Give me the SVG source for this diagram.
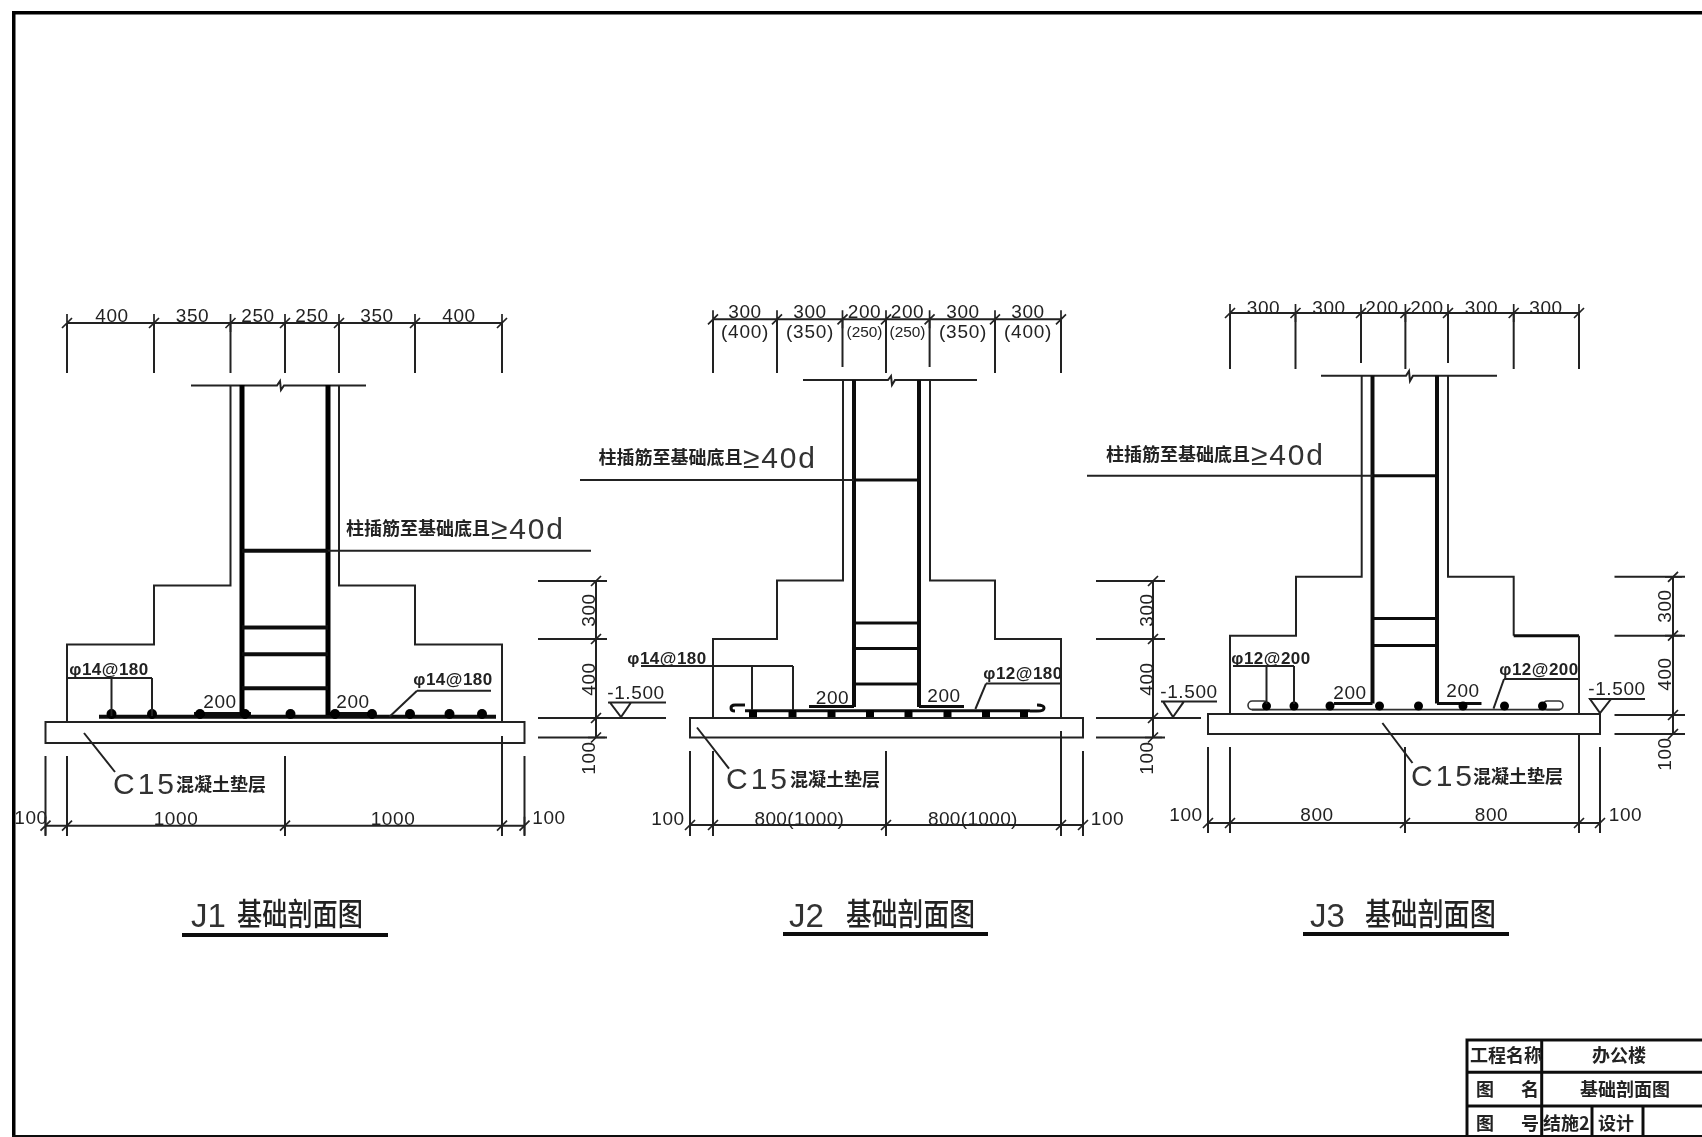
<svg xmlns="http://www.w3.org/2000/svg" width="1702" height="1137" viewBox="0 0 1702 1137">
<style>
text{font-family:"Liberation Sans","Noto Sans CJK SC",sans-serif;fill:#222}
.d{font-size:19px;letter-spacing:.6px;text-anchor:middle}
.s{font-size:17px;letter-spacing:.5px;text-anchor:middle;font-weight:700}
.n{font-size:15px;text-anchor:middle}
.cn{font-family:"Noto Sans CJK SC",sans-serif;font-weight:700;font-size:18px;fill:#222}
.big{font-size:30px;letter-spacing:3px;fill:#333}
.t{font-family:"Noto Sans CJK SC",sans-serif;font-weight:500;font-size:31px;fill:#222}
.j{font-size:33px;fill:#333}
.l{fill:none;stroke:#222;stroke-width:2}
.m{fill:none;stroke:#111;stroke-width:3}
.u{fill:none;stroke:#111;stroke-width:4}
.h{fill:none;stroke:#000;stroke-width:5}
.k{fill:none;stroke:#333;stroke-width:1.6}
</style>
<defs>
<filter id="b" x="0" y="0" width="100%" height="100%"><feGaussianBlur stdDeviation="0.6"/></filter>
<path id="t" d="M-5,5L5,-5M0,-9V9" fill="none" stroke="#222" stroke-width="1.7"/>
<path id="v" d="M-5,5L5,-5M-8,0H9" fill="none" stroke="#222" stroke-width="1.7"/>
</defs>
<rect width="1702" height="1137" fill="#fff"/>
<g filter="url(#b)">
<g id="frame"><path d="M1702,11.500H12.500V1137" fill="none" stroke="#000" stroke-width="6"/><path d="M12,1136.500H1702" fill="none" stroke="#111" stroke-width="3"/></g>

<g id="J1">
<path class="l" d="M67,323H502M67,323V373M154,323V373M230.500,323V373M285,323V373M339,323V373M415,323V373M502,323V373"/>
<use href="#t" x="67" y="323"/><use href="#t" x="154" y="323"/><use href="#t" x="230.500" y="323"/><use href="#t" x="285" y="323"/><use href="#t" x="339" y="323"/><use href="#t" x="415" y="323"/><use href="#t" x="502" y="323"/>
<text class="d" x="112" y="322">400</text><text class="d" x="192.500" y="322">350</text><text class="d" x="258" y="322">250</text><text class="d" x="312" y="322">250</text><text class="d" x="377" y="322">350</text><text class="d" x="459" y="322">400</text>
<path class="l" d="M191,385.500H277L280,381L281,390L284,385.500H366"/>
<path class="l" d="M230.500,385.500V585.500H154V644.500H67V722M339,385.500V585.500H415V644.500H502V722"/>
<path class="h" d="M242,385V717M328,385V717"/>
<path class="u" d="M242,550.700H328M242,627.500H328M242,654.300H328M242,688.200H328"/>
<path class="u" d="M99,716.800H496M194,714H251M330,714H376"/>
<g fill="#000"><circle cx="111.500" cy="714" r="5"/><circle cx="152" cy="714" r="5"/><circle cx="200" cy="714" r="5"/><circle cx="245" cy="714" r="5"/><circle cx="290.500" cy="714" r="5"/><circle cx="335" cy="714" r="5"/><circle cx="372" cy="714" r="5"/><circle cx="410" cy="714" r="5"/><circle cx="449.500" cy="714" r="5"/><circle cx="482" cy="714" r="5"/></g>
<rect class="l" x="45.500" y="722" width="479" height="21"/>
<path class="l" d="M328,550.700H591M67,678H152M111.500,678V716M152,678V716M417,690.700H491M417,690.700L389.500,716.800M84,733L115,772"/>
<text class="cn" x="346" y="535">柱插筋至基础底且</text><text class="big" x="491" y="539" textLength="75">≥40d</text>
<text class="s" x="109" y="675">φ14@180</text><text class="s" x="453" y="685">φ14@180</text>
<text class="d" x="220" y="708">200</text><text class="d" x="353" y="708">200</text>
<text class="big" x="113" y="794">C15</text><text class="cn" x="176" y="791">混凝土垫层</text>
<path class="l" d="M45.500,756V836M67,756V836M285,756V836M502,736V836M524.500,756V836M45.500,825.700H524.500"/>
<use href="#t" x="45.500" y="825.700"/><use href="#t" x="67" y="825.700"/><use href="#t" x="285" y="825.700"/><use href="#t" x="502" y="825.700"/><use href="#t" x="524.500" y="825.700"/>
<text class="d" x="31" y="824">100</text><text class="d" x="176" y="825">1000</text><text class="d" x="393" y="825">1000</text><text class="d" x="549" y="824">100</text>
<path class="l" d="M538,581H607M538,639H607M538,718H666M538,737.500H607M596,581V737.500"/>
<use href="#v" x="596" y="581"/><use href="#v" x="596" y="639"/><use href="#v" x="596" y="718"/><use href="#v" x="596" y="737.500"/>
<text class="d" transform="translate(595,610) rotate(-90)">300</text><text class="d" transform="translate(595,679) rotate(-90)">400</text><text class="d" transform="translate(595,758) rotate(-90)">100</text>
<text class="d" x="636" y="699">-1.500</text><path class="l" d="M608,702.500H666M610,702.500H631L621,717Z"/>
<text class="t" x="237" y="925" textLength="126" lengthAdjust="spacingAndGlyphs">基础剖面图</text><text class="j" x="191" y="927">J1</text><path class="u" d="M182,935H388"/>
</g>

<g id="J2">
<path class="l" d="M713,319.300H1061M713,319.300V373M777,319.300V373M842.500,319.300V367M886,319.300V373M929.600,319.300V367M995,319.300V373M1061,319.300V373"/>
<use href="#t" x="713" y="319.300"/><use href="#t" x="777" y="319.300"/><use href="#t" x="842.500" y="319.300"/><use href="#t" x="886" y="319.300"/><use href="#t" x="929.600" y="319.300"/><use href="#t" x="995" y="319.300"/><use href="#t" x="1061" y="319.300"/>
<text class="d" x="745" y="318">300</text><text class="d" x="810" y="318">300</text><text class="d" x="864.500" y="318">200</text><text class="d" x="907.500" y="318">200</text><text class="d" x="963" y="318">300</text><text class="d" x="1028" y="318">300</text>
<text class="d" x="745" y="338" textLength="48">(400)</text><text class="d" x="810" y="338" textLength="48">(350)</text><text class="n" x="864.500" y="337" textLength="36" lengthAdjust="spacingAndGlyphs">(250)</text><text class="n" x="907.500" y="337" textLength="36" lengthAdjust="spacingAndGlyphs">(250)</text><text class="d" x="963" y="338" textLength="48">(350)</text><text class="d" x="1028" y="338" textLength="48">(400)</text>
<path class="l" d="M803,380H888L891,376L892,385L895,380H977"/>
<path class="l" d="M843,380V580.400H777V639H713V718M930,380V580.400H995V639H1061V718"/>
<path class="u" d="M854,380V707M919,380V707"/>
<path class="m" d="M854,480H919M854,623H919M854,648.600H919M854,684H919M809,706.500H854M919,706.500H964"/>
<path class="m" d="M745,710.700H1030M745,705H735Q731,705 731,708Q731,711 735,711M1030,711H1037Q1044,711 1044,708Q1044,705 1037,705"/>
<g fill="#000"><rect x="749" y="710" width="8" height="8"/><rect x="788.500" y="710" width="8" height="8"/><rect x="827.500" y="710" width="8" height="8"/><rect x="866" y="710" width="8" height="8"/><rect x="904.500" y="710" width="8" height="8"/><rect x="943.500" y="710" width="8" height="8"/><rect x="982" y="710" width="8" height="8"/><rect x="1020" y="710" width="8" height="8"/></g>
<rect class="l" x="690" y="718" width="393" height="19.500"/>
<path class="l" d="M580,480H854M641,666H793M752,666V710M793,666V710M986,683.600H1061M986,683.600L975.400,709M697,727.500L729,768.600"/>
<text class="cn" x="598.500" y="464">柱插筋至基础底且</text><text class="big" x="743" y="468" textLength="75">≥40d</text>
<text class="s" x="667" y="664">φ14@180</text><text class="s" x="1023" y="679">φ12@180</text>
<text class="d" x="832.500" y="704">200</text><text class="d" x="944" y="702">200</text>
<text class="big" x="726" y="789">C15</text><text class="cn" x="790" y="786">混凝土垫层</text>
<path class="l" d="M690,751V836M713,751V836M886,751V836M1061,731V836M1083,751V836M690,825H1083"/>
<use href="#t" x="690" y="825"/><use href="#t" x="713" y="825"/><use href="#t" x="886" y="825"/><use href="#t" x="1061" y="825"/><use href="#t" x="1083" y="825"/>
<text class="d" x="668" y="825">100</text><text class="d" x="799.500" y="825" textLength="90">800(1000)</text><text class="d" x="973" y="825" textLength="90">800(1000)</text><text class="d" x="1107.500" y="825">100</text>
<path class="l" d="M1096,581H1165M1096,639H1165M1096,718H1201M1096,737.500H1165M1153,581V737.500"/>
<use href="#v" x="1153" y="581"/><use href="#v" x="1153" y="639"/><use href="#v" x="1153" y="718"/><use href="#v" x="1153" y="737.500"/>
<text class="d" transform="translate(1153,610) rotate(-90)">300</text><text class="d" transform="translate(1153,679) rotate(-90)">400</text><text class="d" transform="translate(1153,758) rotate(-90)">100</text>
<text class="d" x="1189" y="698">-1.500</text><path class="l" d="M1161,701.400H1217M1163,701.400H1184L1173,717Z"/>
<text class="t" x="846" y="925" textLength="129" lengthAdjust="spacingAndGlyphs">基础剖面图</text><text class="j" x="789" y="927">J2</text><path class="u" d="M783,934H988"/>
</g>

<g id="J3">
<path class="l" d="M1230,313H1579M1230,313V369M1295.500,313V369M1361,313V363M1405.400,313V369M1448,313V363M1513.700,313V369M1579,313V369"/>
<use href="#t" x="1230" y="313"/><use href="#t" x="1295.500" y="313"/><use href="#t" x="1361" y="313"/><use href="#t" x="1405.400" y="313"/><use href="#t" x="1448" y="313"/><use href="#t" x="1513.700" y="313"/><use href="#t" x="1579" y="313"/>
<text class="d" x="1263.500" y="314">300</text><text class="d" x="1329" y="314">300</text><text class="d" x="1382" y="314">200</text><text class="d" x="1427" y="314">200</text><text class="d" x="1481.500" y="314">300</text><text class="d" x="1546" y="314">300</text>
<path class="l" d="M1321,375.700H1406L1409,371L1410,381L1413,375.700H1497"/>
<path class="l" d="M1361.700,375.700V576.800H1296V635.700H1230V714M1448,375.700V576.800H1513.700V635.700"/>
<path class="m" d="M1513.700,635.700H1579"/><path class="l" d="M1579,635.700V714"/>
<path class="u" d="M1372.500,375.700V703.600M1437,375.700V703.600"/>
<path class="m" d="M1372.500,475.700H1437M1372.500,618.600H1437M1372.500,645.400H1437M1334,703.600H1372.500M1437,703.600H1481.500"/>
<path class="k" d="M1252,709.600H1560"/>
<rect class="k" x="1248" y="701" width="20" height="8.600" rx="4.300"/><rect class="k" x="1543" y="701" width="20" height="8.600" rx="4.300"/>
<g fill="#000"><circle cx="1266.500" cy="706" r="4.500"/><circle cx="1294" cy="706" r="4.500"/><circle cx="1330" cy="706" r="4.500"/><circle cx="1379.500" cy="706" r="4.500"/><circle cx="1418.500" cy="706" r="4.500"/><circle cx="1463" cy="706" r="4.500"/><circle cx="1504.500" cy="706" r="4.500"/><circle cx="1542.500" cy="706" r="4.500"/></g>
<rect class="l" x="1208" y="714" width="392" height="20"/>
<path class="l" d="M1087,475.700H1372.500M1233,666H1294M1266.500,666V704M1294,666V704M1504,679H1578M1504,679L1493.500,708.600M1382.400,723L1412.500,763"/>
<text class="cn" x="1106" y="461">柱插筋至基础底且</text><text class="big" x="1251" y="465" textLength="75">≥40d</text>
<text class="s" x="1271" y="664">φ12@200</text><text class="s" x="1539" y="675">φ12@200</text>
<text class="d" x="1350" y="699">200</text><text class="d" x="1463" y="697">200</text>
<text class="big" x="1411" y="786">C15</text><text class="cn" x="1473" y="783">混凝土垫层</text>
<path class="l" d="M1208,747V833M1230,747V833M1405,747V833M1579,733V833M1600,747V833M1208,823H1600"/>
<use href="#t" x="1208" y="823"/><use href="#t" x="1230" y="823"/><use href="#t" x="1405" y="823"/><use href="#t" x="1579" y="823"/><use href="#t" x="1600" y="823"/>
<text class="d" x="1186" y="821">100</text><text class="d" x="1317" y="821">800</text><text class="d" x="1491.500" y="821">800</text><text class="d" x="1625.500" y="821">100</text>
<path class="l" d="M1614.500,576.800H1685M1614.500,635.700H1685M1614.500,715H1685M1614.500,734H1685M1673,576.800V734"/>
<use href="#v" x="1673" y="576.800"/><use href="#v" x="1673" y="635.700"/><use href="#v" x="1673" y="715"/><use href="#v" x="1673" y="734"/>
<text class="d" transform="translate(1671,606) rotate(-90)">300</text><text class="d" transform="translate(1671,674) rotate(-90)">400</text><text class="d" transform="translate(1671,754) rotate(-90)">100</text>
<text class="d" x="1617" y="695">-1.500</text><path class="l" d="M1589,699H1645M1590,699H1611L1600,713Z"/>
<text class="t" x="1365" y="925" textLength="131" lengthAdjust="spacingAndGlyphs">基础剖面图</text><text class="j" x="1310" y="927">J3</text><path class="u" d="M1303,934H1509"/>
</g>

<g id="titleblock">
<path class="m" d="M1702,1040H1467V1137M1467,1072.300H1702M1467,1106H1702M1541.700,1040V1137M1592,1106V1137M1643,1106V1137"/>
<text class="cn" x="1470" y="1062">工程名称</text><text class="cn" x="1592" y="1062" font-size="20">办公楼</text>
<text class="cn" x="1476" y="1096">图</text><text class="cn" x="1521" y="1096">名</text><text class="cn" x="1580" y="1096">基础剖面图</text>
<text class="cn" x="1476" y="1130">图</text><text class="cn" x="1521" y="1130">号</text><text class="cn" x="1543" y="1130">结施2</text><text class="cn" x="1598" y="1130">设计</text>
</g>
</g>
</svg>
